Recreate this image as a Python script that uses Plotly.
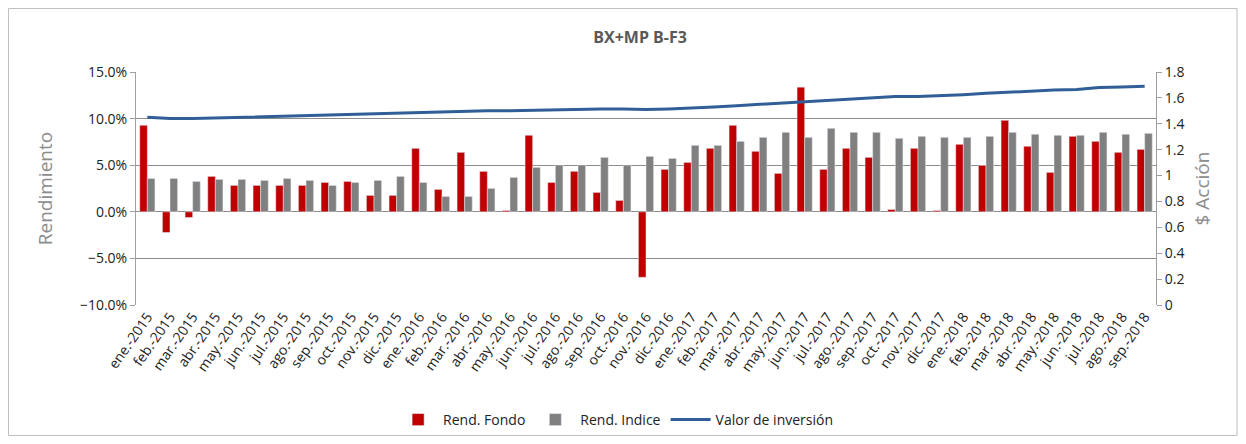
import plotly.graph_objects as go

months = ["ene.", "feb.", "mar.", "abr.", "may.", "jun.", "jul.", "ago.", "sep.", "oct.", "nov.", "dic."]
categories = [f"{m}-{y}" for y in (2015, 2016, 2017) for m in months] + [f"{m}-2018" for m in months[:9]]

rend_fondo = [9.28, -2.22, -0.61, 3.80, 2.83, 2.83, 2.83, 2.83, 3.15, 3.26, 1.76, 1.76,
              6.81, 2.40, 6.38, 4.34, 0.14, 8.21, 3.15, 4.34, 2.08, 1.22, -7.03, 4.55,
              5.30, 6.81, 9.28, 6.49, 4.12, 13.37, 4.55, 6.81, 5.84, 0.25, 6.81, 0.14,
              7.24, 4.98, 9.82, 7.03, 4.23, 8.10, 7.56, 6.38, 6.70]
rend_indice = [3.58, 3.58, 3.26, 3.48, 3.48, 3.37, 3.58, 3.37, 2.83, 3.15, 3.37, 3.80,
               3.15, 1.65, 1.65, 2.51, 3.69, 4.77, 5.02, 5.02, 5.84, 5.02, 5.95, 5.73,
               7.13, 7.13, 7.56, 7.99, 8.53, 7.99, 8.96, 8.53, 8.53, 7.89, 8.10, 7.99,
               7.99, 8.10, 8.53, 8.32, 8.21, 8.21, 8.53, 8.32, 8.42]
valor_inversion = [1.450, 1.440, 1.440, 1.445, 1.450, 1.455, 1.460, 1.465, 1.470, 1.470, 1.475, 1.480,
                   1.485, 1.490, 1.495, 1.500, 1.500, 1.505, 1.510, 1.515, 1.515, 1.515, 1.510, 1.515,
                   1.520, 1.530, 1.540, 1.550, 1.560, 1.570, 1.580, 1.595, 1.605, 1.610, 1.610, 1.615,
                   1.625, 1.635, 1.645, 1.655, 1.660, 1.665, 1.680, 1.685, 1.690]

FONT = "Open Sans, Liberation Sans, sans-serif"
GRID = "#8c8c8c"

fig = go.Figure()
fig.add_trace(go.Bar(x=categories, y=rend_fondo, name="Rend. Fondo", marker_color="#c00000"))
fig.add_trace(go.Bar(x=categories, y=rend_indice, name="Rend. Indice", marker_color="#808080"))
fig.add_trace(go.Scatter(x=categories, y=valor_inversion, name="Valor de inversión", yaxis="y2",
                         mode="lines", line=dict(color="#2f5f96", width=3)))

fig.update_layout(
    width=1230, height=428,
    margin=dict(l=128, r=82, t=64, b=131),
    paper_bgcolor="white", plot_bgcolor="white",
    font=dict(family=FONT, color="#222222", size=13),
    title=dict(text="<b>BX+MP B-F3</b>", x=0.5139, xanchor="center", y=0.932, yanchor="middle",
               font=dict(size=16, color="#595959", family=FONT)),
    barmode="group", bargap=0.33, bargroupgap=0.0,
    xaxis=dict(type="category", tickangle=-55, tickfont=dict(size=14, color="#222222"),
               showgrid=False, showline=False, ticks="", automargin=False),
    yaxis=dict(range=[-10, 15], dtick=5, tickformat=".1f", ticksuffix="%",
               showgrid=True, gridcolor=GRID, gridwidth=1,
               zeroline=True, zerolinecolor=GRID, zerolinewidth=1,
               showline=True, linecolor="#a0a0a0", ticks="outside", ticklen=5, tickcolor="#a0a0a0",
               tickfont=dict(size=14, color="#222222"),
               title=dict(text="Rendimiento", font=dict(size=19, color="#8c8c8c"), standoff=22),
               automargin=False),
    yaxis2=dict(range=[0, 1.8], dtick=0.2, overlaying="y", side="right",
                showgrid=False, zeroline=False, showline=True, linecolor="#a0a0a0",
                ticks="outside", ticklen=5, tickcolor="#a0a0a0",
                tickfont=dict(size=14, color="#222222"),
                title=dict(text="$ Acción", font=dict(size=19, color="#8c8c8c"), standoff=12),
                automargin=False),
    legend=dict(orientation="h", xref="container", yref="container",
                x=0.494, xanchor="center", y=0.0374, yanchor="middle",
                bgcolor="rgba(0,0,0,0)",
                font=dict(size=14, color="#222222"), itemwidth=40, traceorder="normal"),
    shapes=[dict(type="rect", xref="paper", yref="paper",
                 x0=-0.125, x1=1.0794, y0=-0.560, y1=1.2725,
                 line=dict(color="#bfbfbf", width=1), layer="below")],
)

fig.write_html("out.html")
